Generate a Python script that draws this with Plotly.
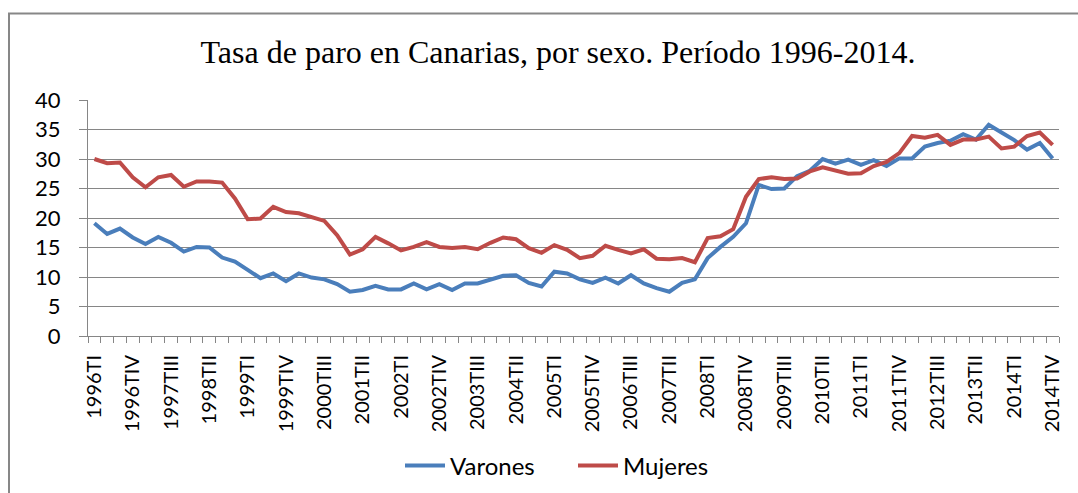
import plotly.graph_objects as go

years = list(range(1996, 2015))
quarters = ["TI", "TII", "TIII", "TIV"]
categories = [f"{y}{q}" for y in years for q in quarters]

varones = [19.1, 17.3, 18.2, 16.7, 15.6, 16.8, 15.8, 14.3, 15.1, 15.0,
           13.3, 12.6, 11.2, 9.8, 10.6, 9.3, 10.6, 9.9, 9.6, 8.8,
           7.5, 7.8, 8.5, 7.9, 7.9, 8.9, 7.9, 8.8, 7.8, 8.9,
           8.9, 9.5, 10.2, 10.3, 9.0, 8.4, 10.9, 10.6, 9.6, 9.0,
           9.9, 8.9, 10.3, 8.9, 8.1, 7.5, 9.0, 9.6, 13.2, 15.1,
           16.8, 19.1, 25.6, 24.9, 25.0, 27.1, 28.0, 30.0, 29.2, 29.9,
           29.0, 29.8, 28.8, 30.1, 30.1, 32.1, 32.7, 33.1, 34.2, 33.3,
           35.8, 34.5, 33.2, 31.6, 32.7, 30.1]
mujeres = [30.0, 29.3, 29.4, 26.9, 25.2, 26.9, 27.3, 25.3, 26.2, 26.2,
           26.0, 23.3, 19.8, 19.9, 21.9, 21.0, 20.8, 20.2, 19.5, 17.1,
           13.8, 14.7, 16.8, 15.7, 14.5, 15.1, 15.9, 15.1, 14.9, 15.1,
           14.7, 15.8, 16.7, 16.4, 14.9, 14.1, 15.4, 14.6, 13.2, 13.6,
           15.3, 14.6, 14.0, 14.7, 13.1, 13.0, 13.2, 12.5, 16.6, 16.9,
           18.1, 23.6, 26.6, 26.9, 26.6, 26.7, 27.9, 28.6, 28.0, 27.5,
           27.6, 28.8, 29.5, 31.0, 33.9, 33.6, 34.1, 32.4, 33.3, 33.3,
           33.8, 31.8, 32.1, 33.9, 34.5, 32.4]

tick_text = [c if i % 3 == 0 else "" for i, c in enumerate(categories)]
y_ticks = [0, 5, 10, 15, 20, 25, 30, 35, 40]

title_text = "Tasa de paro en Canarias, por sexo. Período 1996-2014."

GRID = "#868686"
FONT = "Lato"

fig = go.Figure()
fig.add_trace(go.Scatter(x=categories, y=varones, mode="lines", name="Varones",
                         line=dict(color="#4A7EBB", width=4)))
fig.add_trace(go.Scatter(x=categories, y=mujeres, mode="lines", name="Mujeres",
                         line=dict(color="#BE4B48", width=4)))

L, R, T, B = 88, 19, 100, 157
W, H = 1078, 493
pw = W - L - R
ph = H - T - B

fig.update_layout(
    width=W, height=H,
    margin=dict(l=L, r=R, t=T, b=B, autoexpand=False),
    paper_bgcolor="white", plot_bgcolor="white",
    title=dict(text=title_text, x=558 / W, xanchor="center",
               y=1 - 52 / H, yanchor="middle", yref="container",
               font=dict(family="Liberation Serif", size=32, color="black")),
    showlegend=True,
    legend=dict(orientation="h", x=(400 - L) / pw, xanchor="left",
                y=(336 - 466) / ph, yanchor="middle",
                font=dict(family=FONT, size=24, color="black"),
                bgcolor="rgba(0,0,0,0)", itemwidth=40, tracegroupgap=0,
                entrywidth=118, entrywidthmode="pixels"),
    xaxis=dict(type="category", tickmode="array", tickvals=categories,
               ticktext=tick_text, tickangle=-90, tickson="boundaries",
               ticks="outside", ticklen=6, tickcolor=GRID, tickwidth=1,
               showgrid=False, showline=True, linecolor=GRID, linewidth=1,
               range=[-0.5, len(categories) - 0.5],
               ticklabelstandoff=10,
               tickfont=dict(family=FONT, size=20, color="black")),
    yaxis=dict(range=[0, 40], tickvals=y_ticks, ticks="outside", ticklen=8,
               tickcolor=GRID, showgrid=True, gridcolor=GRID, gridwidth=1,
               showline=True, linecolor=GRID, linewidth=1, zeroline=False,
               ticklabelstandoff=14,
               tickfont=dict(family=FONT, size=22, color="black")),
    shapes=[dict(type="rect", xref="paper", yref="paper",
                 x0=(9 - L) / pw, x1=(W + 20 - L) / pw,
                 y0=(336 - (H + 20)) / ph, y1=(336 - 13.5) / ph,
                 line=dict(color="#878787", width=2), fillcolor="rgba(0,0,0,0)",
                 layer="above")],
)

fig.write_html("out.html", config={"displayModeBar": False})

# remove the default page margin so the figure sits at the window origin
with open("out.html", "r", encoding="utf-8") as f:
    html = f.read()
html = html.replace("<head>", "<head><style>html,body{margin:0;padding:0;overflow:hidden;}</style>", 1)
with open("out.html", "w", encoding="utf-8") as f:
    f.write(html)
